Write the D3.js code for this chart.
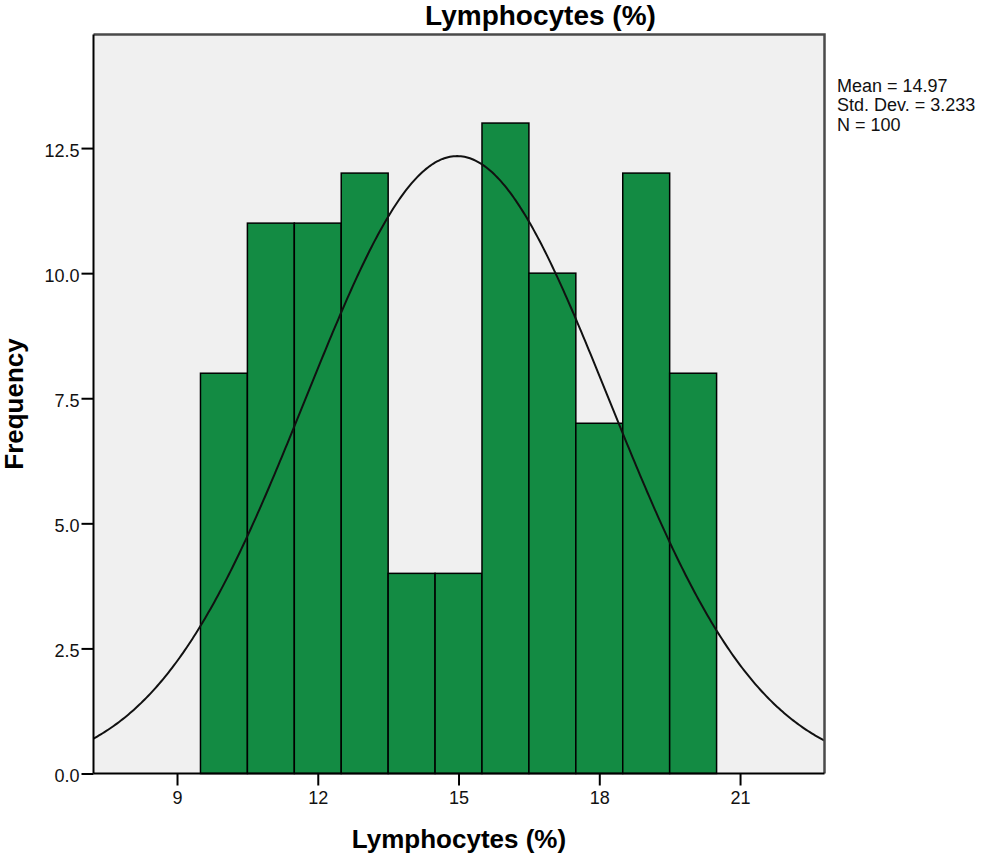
<!DOCTYPE html>
<html>
<head>
<meta charset="utf-8">
<script src="https://cdn.jsdelivr.net/npm/d3@7"></script>
<style>
  html, body { margin: 0; padding: 0; background: #ffffff; }
  svg { display: block; font-family: "Liberation Sans", Arial, sans-serif; }
</style>
</head>
<body>
<svg id="chart" width="986" height="857"></svg>
<script>
// ---- data ----
const binStarts = [9.5, 10.5, 11.5, 12.5, 13.5, 14.5, 15.5, 16.5, 17.5, 18.5, 19.5];
const binWidth = 1;
const counts = [8, 11, 11, 12, 4, 4, 13, 10, 7, 12, 8];
const xTicks = [9, 12, 15, 18, 21];
const yTicks = [0, 2.5, 5, 7.5, 10, 12.5];
const mean = 14.97;
const sd = 3.233;
const n = 100;
const statsLines = ["Mean = 14.97", "Std. Dev. = 3.233", "N = 100"];
const title = "Lymphocytes (%)";
const xTitle = "Lymphocytes (%)";
const yTitle = "Frequency";

// ---- layout ----
const plot = { left: 93.5, right: 824.5, top: 34.5, bottom: 773.5 };
const svg = d3.select("#chart");

const x = d3.scaleLinear().domain([7.22, 22.8]).range([plot.left, plot.right]);
const y = d3.scaleLinear().domain([0, 14.77]).range([plot.bottom, plot.top]);

// plot background
svg.append("rect")
  .attr("x", plot.left).attr("y", plot.top)
  .attr("width", plot.right - plot.left).attr("height", plot.bottom - plot.top)
  .attr("fill", "#f0f0f0");

const clipId = "plotclip";
svg.append("clipPath").attr("id", clipId).append("rect")
  .attr("x", plot.left).attr("y", plot.top)
  .attr("width", plot.right - plot.left).attr("height", plot.bottom - plot.top);

// bars
svg.append("g").selectAll("rect")
  .data(binStarts.map((s, i) => ({ s, c: counts[i] })))
  .join("rect")
  .attr("x", d => x(d.s))
  .attr("y", d => y(d.c))
  .attr("width", d => x(d.s + binWidth) - x(d.s))
  .attr("height", d => y(0) - y(d.c))
  .attr("fill", "#138b43")
  .attr("stroke", "#000")
  .attr("stroke-width", 1.5);

// normal curve
const pdf = v => n * binWidth * Math.exp(-0.5 * Math.pow((v - mean) / sd, 2)) / (sd * Math.sqrt(2 * Math.PI));
const xs = d3.range(0, 401).map(i => x.domain()[0] + (x.domain()[1] - x.domain()[0]) * i / 400);
svg.append("path")
  .attr("clip-path", `url(#${clipId})`)
  .attr("d", d3.line().x(v => x(v)).y(v => y(pdf(v)))(xs))
  .attr("fill", "none")
  .attr("stroke", "#111")
  .attr("stroke-width", 2);

// frame top/right
svg.append("path")
  .attr("d", `M${plot.left},${plot.top}H${plot.right}V${plot.bottom}`)
  .attr("fill", "none").attr("stroke", "#4a4a4a").attr("stroke-width", 2.5);

// axes
const xAxis = d3.axisBottom(x).tickValues(xTicks).tickSize(12).tickPadding(6).tickFormat(d3.format("d"));
const gx = svg.append("g").attr("transform", `translate(0,${plot.bottom})`).call(xAxis);
gx.select(".domain").attr("stroke", "#000").attr("stroke-width", 2)
  .attr("d", `M${plot.left},0H${plot.right}`);
gx.selectAll(".tick line").attr("stroke", "#000").attr("stroke-width", 2);
gx.selectAll(".tick text").attr("font-size", 18).attr("fill", "#111")
  .attr("font-family", "Liberation Sans, Arial, sans-serif");

const yAxis = d3.axisLeft(y).tickValues(yTicks).tickSize(12).tickPadding(2).tickFormat(d3.format(".1f"));
const gy = svg.append("g").attr("transform", `translate(${plot.left},0)`).call(yAxis);
gy.select(".domain").attr("stroke", "#000").attr("stroke-width", 2)
  .attr("d", `M0,${plot.top}V${plot.bottom}`);
gy.selectAll(".tick line").attr("stroke", "#000").attr("stroke-width", 2);
gy.selectAll(".tick text").attr("font-size", 18).attr("fill", "#111").attr("dy", "0.47em")
  .attr("font-family", "Liberation Sans, Arial, sans-serif");

// titles
svg.append("text").attr("x", 540.5).attr("y", 25).attr("text-anchor", "middle")
  .attr("font-size", 28).attr("font-weight", "bold").attr("fill", "#000").text(title);
svg.append("text").attr("x", (plot.left + plot.right) / 2).attr("y", 848).attr("text-anchor", "middle")
  .attr("font-size", 26).attr("font-weight", "bold").attr("fill", "#000").text(xTitle);
svg.append("text").attr("transform", `translate(23,${(plot.top + plot.bottom) / 2}) rotate(-90)`)
  .attr("text-anchor", "middle")
  .attr("font-size", 26).attr("font-weight", "bold").attr("fill", "#000").text(yTitle);

// stats
svg.append("g").selectAll("text").data(statsLines).join("text")
  .attr("x", 837).attr("y", (d, i) => 91.7 + i * 19.5)
  .attr("font-size", 18).attr("fill", "#111").text(d => d);
</script>
</body>
</html>
